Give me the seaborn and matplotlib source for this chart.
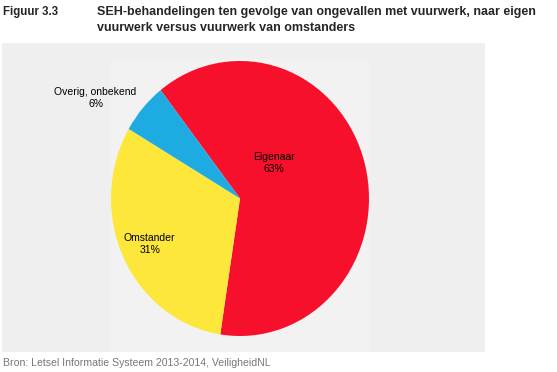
import matplotlib
matplotlib.use("Agg")
import matplotlib.pyplot as plt
import matplotlib.patches as patches
import seaborn as sns

# data
categories = ["Eigenaar", "Omstander", "Overig, onbekend"]
shares = [63, 31, 6]
colors = ["#f7102b", "#fde73a", "#1eabe2"]

title_nr = "Figuur 3.3"
title_txt = "SEH-behandelingen ten gevolge van ongevallen met vuurwerk, naar eigen\nvuurwerk versus vuurwerk van omstanders"
source_txt = "Bron: Letsel Informatie Systeem 2013-2014, VeiligheidNL"

sns.set_theme(style="white")
plt.rcParams["font.family"] = ["Liberation Sans", "DejaVu Sans"]

W, H = 557, 372
fig = plt.figure(figsize=(W / 100, H / 100), dpi=100)
fig.patch.set_facecolor("white")

# background axes in pixel coordinates for the grey panel
bg = fig.add_axes([0, 0, 1, 1], zorder=0)
bg.set_xlim(0, W)
bg.set_ylim(H, 0)
bg.axis("off")
bg.add_patch(patches.Rectangle((2, 43), 483, 309, facecolor="#efefef", edgecolor="none"))
bg.add_patch(patches.Rectangle((111, 59), 258, 293, facecolor="#f2f2f2", edgecolor="none"))

ax = fig.add_axes([111 / W, 1 - 336 / H, 258 / W, 275 / H], zorder=1)
ax.patch.set_alpha(0)
pal = sns.color_palette(colors)
ax.pie(shares, colors=pal, startangle=128, counterclock=False,
       wedgeprops=dict(linewidth=0))
ax.set_aspect("auto")
ax.set_xlim(-1, 1)
ax.set_ylim(-1, 1)
ax.axis("off")

# label positions in pie coordinates
label_pos = [(0.26, 0.26), (-0.70, -0.33), (-1.12, 0.73)]
for cat, val, (lx, ly) in zip(categories, shares, label_pos):
    ax.text(lx, ly, f"{cat}\n{val}%", ha="center", va="center",
            fontsize=7.5, color="black", linespacing=1.3, zorder=5)

title_lines = title_txt.split("\n")
fig.text(3 / W, 1 - 15 / H, title_nr, fontsize=8.3, fontweight="bold",
         ha="left", va="baseline")
fig.text(97 / W, 1 - 15 / H, title_lines[0], fontsize=9.0,
         fontweight="bold", ha="left", va="baseline")
fig.text(97 / W, 1 - 31 / H, title_lines[1], fontsize=9.0,
         fontweight="bold", ha="left", va="baseline")
fig.text(3 / W, 1 - 366 / H, source_txt, fontsize=7.6, color="#777777",
         ha="left", va="baseline")

fig.savefig("out.png", dpi=100)
